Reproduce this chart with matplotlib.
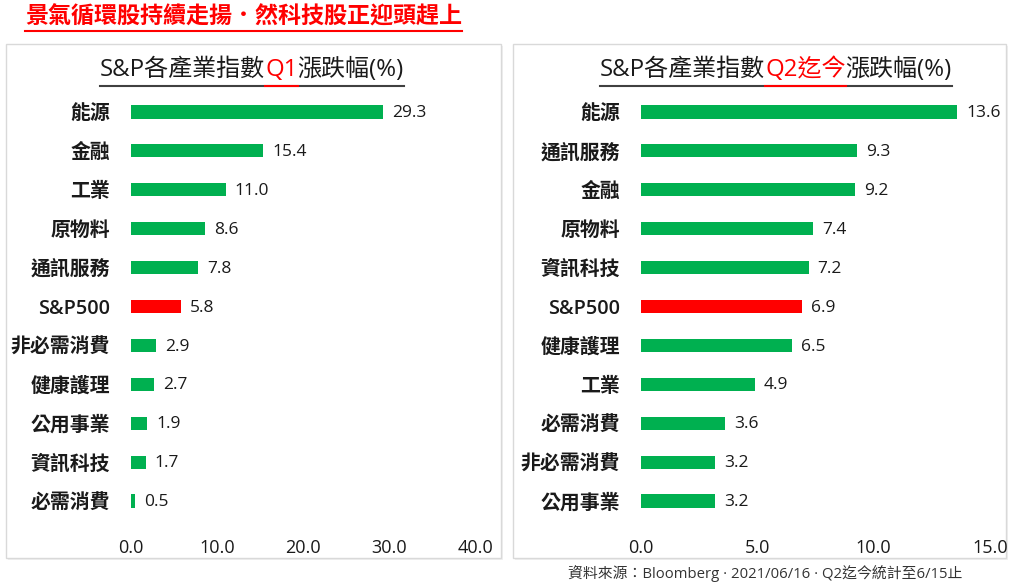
import matplotlib
matplotlib.use("Agg")
import matplotlib.pyplot as plt
from matplotlib.patches import Rectangle

plt.rcParams['font.family'] = ['Open Sans', 'Noto Sans CJK TC', 'DejaVu Sans']

# Q1 data
q1_labels = ["能源", "金融", "工業", "原物料", "通訊服務", "S&P500",
             "非必需消費", "健康護理", "公用事業", "資訊科技", "必需消費"]
q1_values = [29.3, 15.4, 11.0, 8.6, 7.8, 5.8, 2.9, 2.7, 1.9, 1.7, 0.5]
q1_ticks = [0, 10, 20, 30, 40]

# Q2 to date data
q2_labels = ["能源", "通訊服務", "金融", "原物料", "資訊科技", "S&P500",
             "健康護理", "工業", "必需消費", "非必需消費", "公用事業"]
q2_values = [13.6, 9.3, 9.2, 7.4, 7.2, 6.9, 6.5, 4.9, 3.6, 3.2, 3.2]
q2_ticks = [0, 5, 10, 15]

GREEN = "#00b050"
RED = "#ff0000"
W, H = 1024, 585

fig = plt.figure(figsize=(W / 100, H / 100), dpi=100)


def fx(px):
    return px / W


def fy(py):
    return 1 - py / H


# panel boxes
for x0, x1 in [(6, 501), (513, 1006)]:
    fig.patches.append(Rectangle((fx(x0 + 2), fy(560)), fx(x1 - x0), fy(44) - fy(558),
                                 transform=fig.transFigure, facecolor="#f0f0f0",
                                 edgecolor="none", zorder=-2))
    fig.patches.append(Rectangle((fx(x0), fy(558)), fx(x1 - x0), fy(44) - fy(558),
                                 transform=fig.transFigure, facecolor="white",
                                 edgecolor="#d9d9d9", lw=1, zorder=-1))


def panel(left_px, right_px, labels, values, ticks, xmax):
    top, bottom = 92.5, 520.5
    ax = fig.add_axes([fx(left_px), fy(bottom), fx(right_px - left_px), fy(top) - fy(bottom)])
    ax.set_facecolor("none")
    y = list(range(len(labels)))
    colors = [RED if l == "S&P500" else GREEN for l in labels]
    ax.barh(y, values, height=0.34, color=colors)
    for yi, v in zip(y, values):
        ax.text(v + xmax * 0.026, yi + 0.03, f"{v:.1f}", va="center", ha="left",
                fontsize=12.5, color="#1a1a1a")
    ax.set_ylim(len(labels) - 0.5, -0.5)
    ax.set_xlim(0, xmax)
    ax.set_yticks(y)
    ax.set_yticklabels(labels, fontsize=14.3, color="#1a1a1a", fontweight="semibold")
    ax.set_xticks(ticks)
    ax.set_xticklabels([f"{t:.1f}" for t in ticks], fontsize=13, color="#1a1a1a")
    ax.tick_params(axis="y", length=0, pad=15)
    ax.tick_params(axis="x", length=0, pad=13)
    for s in ax.spines.values():
        s.set_visible(False)
    return ax


panel(131, 475, q1_labels, q1_values, q1_ticks, 40)
panel(641, 990, q2_labels, q2_values, q2_ticks, 15)


def panel_title(x_start, parts, y_px=70):
    # parts: list of (text, color)
    renderer = fig.canvas.get_renderer()
    x = fx(x_start)
    segs = []
    for txt, col in parts:
        t = fig.text(x, fy(y_px), txt, fontsize=17.3, color=col, ha="left", va="center",
                     fontweight="medium")
        bb = t.get_window_extent(renderer=renderer)
        segs.append((x, x + bb.width / W, col))
        x += bb.width / W
    ly = fy(y_px + 16)
    fig.add_artist(plt.Line2D([segs[0][0], segs[-1][1]], [ly, ly], color="#404040",
                              lw=1.5, transform=fig.transFigure))
    for a, b, col in segs:
        if col != "#1a1a1a":
            fig.add_artist(plt.Line2D([a, b], [ly, ly], color=col, lw=1.5,
                                      transform=fig.transFigure))


panel_title(100, [("S&P各產業指數", "#1a1a1a"), ("Q1", RED), ("漲跌幅(%)", "#1a1a1a")])
panel_title(600, [("S&P各產業指數", "#1a1a1a"), ("Q2迄今", RED), ("漲跌幅(%)", "#1a1a1a")])

# main title
renderer = fig.canvas.get_renderer()
t = fig.text(fx(25), fy(18), "景氣循環股持續走揚．然科技股正迎頭趕上", fontsize=16.6,
             color=RED, fontweight="bold", ha="left", va="center")
bb = t.get_window_extent(renderer=renderer)
fig.add_artist(plt.Line2D([fx(25), fx(25) + bb.width / W], [fy(31), fy(31)], color=RED,
                          lw=1.5, transform=fig.transFigure))

# footer
fig.text(fx(765), fy(574), "資料來源：Bloomberg · 2021/06/16 · Q2迄今統計至6/15止",
         fontsize=10.7, color="#333333", ha="center", va="center")

fig.savefig("out.png", dpi=100)
